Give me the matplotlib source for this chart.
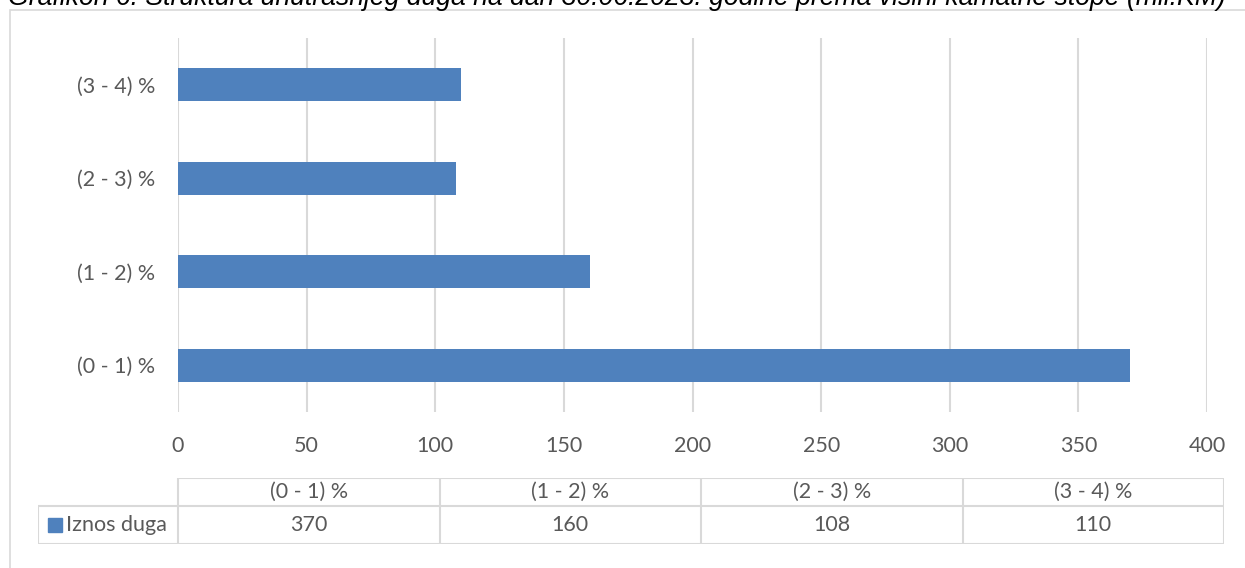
import matplotlib.pyplot as plt
from matplotlib.patches import Rectangle
from matplotlib.lines import Line2D

# data
categories = ["(0 - 1) %", "(1 - 2) %", "(2 - 3) %", "(3 - 4) %"]
iznos_duga = [370, 160, 108, 110]
series_name = "Iznos duga"
x_ticks = [0, 50, 100, 150, 200, 250, 300, 350, 400]
title = "Grafikon 6. Struktura unutrašnjeg duga na dan 30.06.2023. godine prema visini kamatne stope (mil.KM)"

W, H = 1245, 568
BAR = "#4f81bd"
GRID = "#d9d9d9"
TXT = "#595959"
FONT = ["Lato", "DejaVu Sans"]
FS = 15.5

fig = plt.figure(figsize=(W / 100, H / 100), dpi=100)

def px(x, y):
    return x / W, 1 - y / H

# outer chart border (right and bottom edges fall outside the image)
fig.add_artist(Rectangle(px(10, 600), 1300 / W, 590 / H, transform=fig.transFigure,
                         fill=False, edgecolor=GRID, linewidth=1.2))

# cropped title at the very top
fig.text(px(8, 0)[0], px(0, 5)[1], title, fontsize=19.2, style="italic",
         family=["Liberation Sans", "DejaVu Sans"], ha="left", va="baseline", color="black")

# main bar chart
ax = fig.add_axes([178 / W, 1 - 412 / H, (1207 - 178) / W, (412 - 38) / H])
ypos = range(len(categories))
ax.barh(ypos, iznos_duga, height=0.35, color=BAR, zorder=3)
ax.set_xlim(0, 400)
ax.set_ylim(-0.5, len(categories) - 0.5)
ax.set_xticks(x_ticks)
ax.set_yticks(list(ypos))
ax.set_yticklabels(categories)
ax.grid(axis="x", color=GRID, linewidth=1.5, zorder=0)
for s in ax.spines.values():
    s.set_visible(False)
ax.tick_params(length=0, labelsize=FS, labelcolor=TXT)
ax.tick_params(axis="x", pad=17)
ax.tick_params(axis="y", pad=16.5)
for lab in ax.get_xticklabels() + ax.get_yticklabels():
    lab.set_family(FONT)

# data table below the chart
L, R, T, M, B = 38, 1224, 478, 506, 544
col0 = 178
tx = fig.add_axes([L / W, 1 - B / H, (R - L) / W, (B - T) / H])
tx.set_xlim(L, R)
tx.set_ylim(B, T)
tx.axis("off")
n = len(categories)
cw = (R - col0) / n
lkw = dict(color=GRID, linewidth=1.5, solid_capstyle="butt")
tx.add_line(Line2D([col0, R], [T, T], **lkw))
tx.add_line(Line2D([L, R], [M, M], **lkw))
tx.add_line(Line2D([L, R], [B, B], **lkw))
tx.add_line(Line2D([L, L], [M, B], **lkw))
for i in range(n + 1):
    xx = col0 + i * cw
    tx.add_line(Line2D([xx, xx], [T, B], **lkw))
for i, (c, v) in enumerate(zip(categories, iznos_duga)):
    xc = col0 + (i + 0.5) * cw
    tx.text(xc, (T + M) / 2, c, ha="center", va="center", fontsize=FS, color=TXT, family=FONT)
    tx.text(xc, (M + B) / 2, str(v), ha="center", va="center", fontsize=FS, color=TXT, family=FONT)
tx.add_patch(Rectangle((48, (M + B) / 2 - 7), 14, 14, color=BAR))
tx.text(66, (M + B) / 2, series_name, ha="left", va="center", fontsize=FS, color=TXT, family=FONT)

fig.savefig("out.png", dpi=100)
